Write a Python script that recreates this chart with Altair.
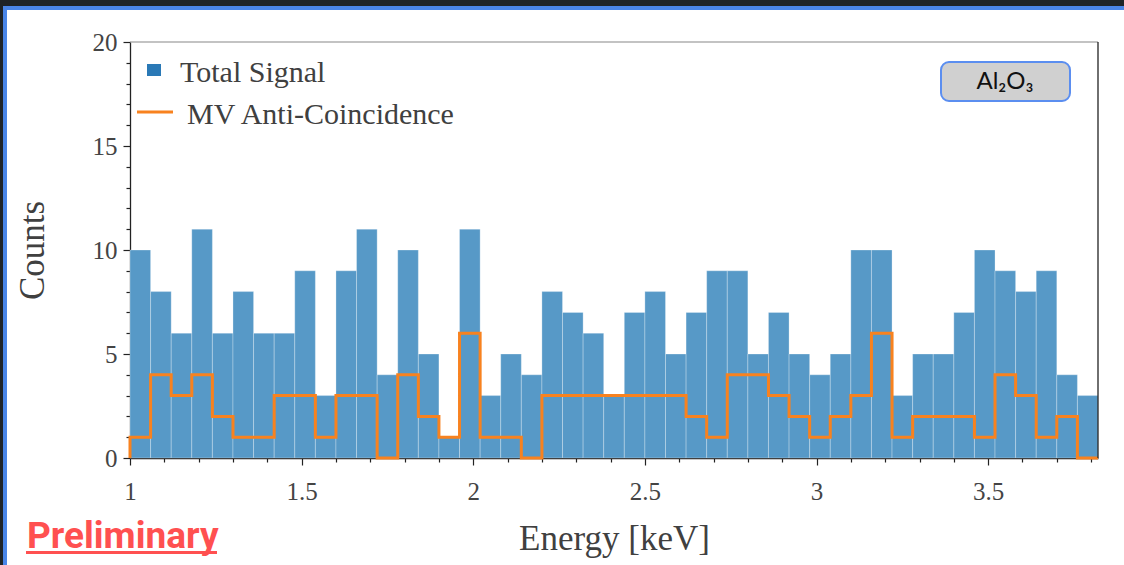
import altair as alt
import pandas as pd

# ---------------- data ----------------
ENERGY_START = 1.0       # keV, first bin edge
BIN_WIDTH = 0.06         # keV
ENERGY_MAX = 3.82        # keV, right end of the axis

TOTAL_SIGNAL = [10, 8, 6, 11, 6, 8, 6, 6, 9, 3,
                9, 11, 4, 10, 5, 1, 11, 3, 5, 4,
                8, 7, 6, 3, 7, 8, 5, 7, 9, 9,
                5, 7, 5, 4, 5, 10, 10, 3, 5, 5,
                7, 10, 9, 8, 9, 4, 3]
MV_ANTI = [1, 4, 3, 4, 2, 1, 1, 3, 3, 1,
           3, 3, 0, 4, 2, 1, 6, 1, 1, 0,
           3, 3, 3, 3, 3, 3, 3, 2, 1, 4,
           4, 3, 2, 1, 2, 3, 6, 1, 2, 2,
           2, 1, 4, 3, 1, 2, 0]

X_TICKS = [1.0, 1.1, 1.2, 1.3, 1.4, 1.5, 1.6, 1.7, 1.8, 1.9, 2.0, 2.1, 2.2, 2.3, 2.4,
           2.5, 2.6, 2.7, 2.8, 2.9, 3.0, 3.1, 3.2, 3.3, 3.4, 3.5, 3.6, 3.7, 3.8]
Y_TICKS = list(range(0, 21))
LEGEND_LABELS = ["Total Signal", "MV Anti-Coincidence"]
X_TITLE = "Energy [keV]"
Y_TITLE = "Counts"
MATERIAL = "Al₂O₃"
WATERMARK = "Preliminary"

BAR_COLOR = "#5799c7"
LINE_COLOR = "#f8821f"
SERIF = "Liberation Serif"
TEXT_COLOR = "#404040"

W, H = 968, 416
PAD_L, PAD_T = 130, 42

# ---------------- tables ----------------
edges = [round(ENERGY_START + BIN_WIDTH * i, 4) for i in range(len(TOTAL_SIGNAL) + 1)]
bars_df = pd.DataFrame({"x0": edges[:-1], "x1": edges[1:], "count": TOTAL_SIGNAL})

lx, ly = [edges[0]], [0]
for i, v in enumerate(MV_ANTI):
    lx.append(edges[i]); ly.append(v)
lx.append(edges[-1]); ly.append(MV_ANTI[-1])
line_df = pd.DataFrame({"x": lx, "y": ly, "order": list(range(len(lx)))})

one = pd.DataFrame({"k": [0]})

xscale = alt.Scale(domain=[ENERGY_START, ENERGY_MAX], nice=False, zero=False)
yscale = alt.Scale(domain=[0, 20], nice=False)

X_MAJOR = "abs(datum.value*2 - round(datum.value*2)) < 0.001"
Y_MAJOR = "datum.value % 5 === 0"

x_axis = alt.Axis(
    values=X_TICKS,
    labelExpr=X_MAJOR + " ? toString(round(datum.value*10)/10) : ''",
    tickSize={"condition": {"test": X_MAJOR, "value": 7}, "value": 4},
    tickColor="#222", tickWidth=1.2, domainColor="#222", domainWidth=1.3,
    labelFont=SERIF, labelFontSize=25, labelColor="#444", labelPadding=14,
    labelFlush=False, labelOverlap=False, labelBound=False, grid=False,
    title=X_TITLE, titleFont=SERIF, titleFontSize=35, titleFontWeight="normal",
    titleColor=TEXT_COLOR, titleBaseline="alphabetic", titleY=91,
)
y_axis = alt.Axis(
    values=Y_TICKS,
    labelExpr=Y_MAJOR + " ? toString(datum.value) : ''",
    tickSize={"condition": {"test": Y_MAJOR, "value": 7}, "value": 4},
    tickColor="#222", tickWidth=1.2, domainColor="#222", domainWidth=1.3,
    labelFont=SERIF, labelFontSize=25, labelColor="#444", labelPadding=6,
    labelOverlap=False, labelBound=False, grid=False,
    title=Y_TITLE, titleFont=SERIF, titleFontSize=35, titleFontWeight="normal",
    titleColor=TEXT_COLOR, titleAngle=-90, titleBaseline="alphabetic",
    titleX=-87, titleY=H / 2, titleAlign="center",
)

bars = alt.Chart(bars_df).mark_rect(
    color=BAR_COLOR, stroke="white", strokeOpacity=0.35, strokeWidth=0.8
).encode(
    x=alt.X("x0:Q", scale=xscale, axis=x_axis),
    x2="x1:Q",
    y=alt.Y("count:Q", scale=yscale, axis=y_axis),
    y2=alt.datum(0),
)

line = alt.Chart(line_df).mark_line(
    interpolate="step-after", color=LINE_COLOR, strokeWidth=3
).encode(
    x=alt.X("x:Q", scale=xscale, axis=x_axis),
    y=alt.Y("y:Q", scale=yscale, axis=y_axis),
    order="order:Q",
)

# plot frame (top / right)
top_rule = alt.Chart(one).mark_rule(color="#888", strokeWidth=1.2).encode(
    x=alt.value(0), x2=alt.value(W), y=alt.value(0))
right_rule = alt.Chart(one).mark_rule(color="#222", strokeWidth=1.3).encode(
    x=alt.value(W), y=alt.value(0), y2=alt.value(H))

# legend
leg_sq = alt.Chart(one).mark_rect(color="#2a79b6").encode(
    x=alt.value(17), x2=alt.value(31), y=alt.value(22), y2=alt.value(34))
leg_ln = alt.Chart(one).mark_rule(color=LINE_COLOR, strokeWidth=3).encode(
    x=alt.value(7), x2=alt.value(43), y=alt.value(70))
leg_t1 = alt.Chart(one).mark_text(
    font=SERIF, fontSize=30, color=TEXT_COLOR, align="left", baseline="alphabetic"
).encode(x=alt.value(50), y=alt.value(40), text=alt.value(LEGEND_LABELS[0]))
leg_t2 = alt.Chart(one).mark_text(
    font=SERIF, fontSize=30, color=TEXT_COLOR, align="left", baseline="alphabetic"
).encode(x=alt.value(57), y=alt.value(82), text=alt.value(LEGEND_LABELS[1]))

# material box
box = alt.Chart(one).mark_rect(
    fill="#d0d0d0", stroke="#5b8ef0", strokeWidth=2, cornerRadius=8
).encode(x=alt.value(811), x2=alt.value(940), y=alt.value(20), y2=alt.value(59))
box_t = alt.Chart(one).mark_text(
    font="Lato", fontSize=24, color="#111", align="center", baseline="middle"
).encode(x=alt.value(875), y=alt.value(40), text=alt.value(MATERIAL))

# watermark
prelim = alt.Chart(one).mark_text(
    font="Roboto", fontSize=37, fontWeight="bold", color="#ff5050",
    align="left", baseline="alphabetic"
).encode(x=alt.value(-103), y=alt.value(506), text=alt.value(WATERMARK))
prelim_ul = alt.Chart(one).mark_rect(color="#ff5050").encode(
    x=alt.value(-104), x2=alt.value(87), y=alt.value(509), y2=alt.value(512))

# outer slide frame
dark = "#1f2428"
blue = "#4a86e8"
f1 = alt.Chart(one).mark_rect(color=dark).encode(
    x=alt.value(-PAD_L), x2=alt.value(1124 - PAD_L), y=alt.value(-PAD_T), y2=alt.value(6 - PAD_T))
f2 = alt.Chart(one).mark_rect(color=blue).encode(
    x=alt.value(3 - PAD_L), x2=alt.value(1124 - PAD_L), y=alt.value(6 - PAD_T), y2=alt.value(10 - PAD_T))
f3 = alt.Chart(one).mark_rect(color=dark).encode(
    x=alt.value(-PAD_L), x2=alt.value(3 - PAD_L), y=alt.value(-PAD_T), y2=alt.value(565 - PAD_T))
f4 = alt.Chart(one).mark_rect(color=blue).encode(
    x=alt.value(3 - PAD_L), x2=alt.value(7 - PAD_L), y=alt.value(6 - PAD_T), y2=alt.value(565 - PAD_T))

chart = alt.layer(
    bars, line, top_rule, right_rule, leg_sq, leg_ln, leg_t1, leg_t2,
    box, box_t, prelim, prelim_ul, f1, f2, f3, f4
).properties(
    width=W, height=H,
    autosize=alt.AutoSizeParams(type="none"),
    padding={"left": PAD_L, "top": PAD_T, "right": 1124 - PAD_L - W, "bottom": 565 - PAD_T - H},
    background="white",
).configure_view(stroke=None).configure_axis(labelOverlap=False)

chart.save("out.html", embed_options={"renderer": "svg", "actions": False})
